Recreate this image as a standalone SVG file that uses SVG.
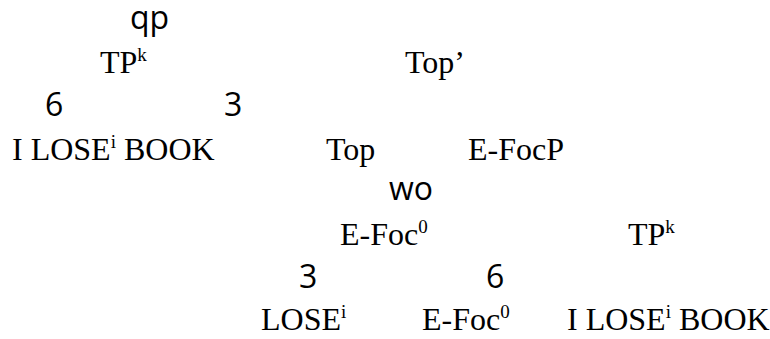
<svg xmlns="http://www.w3.org/2000/svg" width="770" height="339" viewBox="0 0 770 339">
<style>
.n{font-family:"Liberation Serif","Times New Roman",serif;font-size:32px;fill:#000}
.s{font-size:19px}
.c{font-family:"Open Sans","Noto Sans",sans-serif;font-size:32px;fill:#000}
</style>
<rect width="770" height="339" fill="#fff"/>
<g id="connectors">
<text class="c" x="130" y="29">qp</text>
<text class="c" x="45" y="116">6</text>
<text class="c" x="224" y="116">3</text>
<text class="c" x="389" y="200" font-weight="500">wo</text>
<text class="c" x="299" y="288">3</text>
<text class="c" x="486" y="288">6</text>
</g>
<g id="tpk1"><text class="n" x="100" y="73">TP<tspan class="s" dy="-12">k</tspan></text></g>
<g id="topbar"><text class="n" x="405" y="73">Top’</text></g>
<g id="ilosebook1"><text class="n" x="12" y="160">I LOSE<tspan class="s" dy="-12">i</tspan><tspan dy="12"> BOOK</tspan></text></g>
<g id="top"><text class="n" x="326" y="160">Top</text></g>
<g id="efocp"><text class="n" x="468" y="160">E-FocP</text></g>
<g id="efoc0a"><text class="n" x="340" y="245">E-Foc<tspan class="s" dy="-12">0</tspan></text></g>
<g id="tpk2"><text class="n" x="628" y="245">TP<tspan class="s" dy="-12">k</tspan></text></g>
<g id="lose"><text class="n" x="261" y="330">LOSE<tspan class="s" dy="-12">i</tspan></text></g>
<g id="efoc0b"><text class="n" x="422" y="330">E-Foc<tspan class="s" dy="-12">0</tspan></text></g>
<g id="ilosebook2"><text class="n" x="567" y="330">I LOSE<tspan class="s" dy="-12">i</tspan><tspan dy="12"> BOOK</tspan></text></g>
</svg>
